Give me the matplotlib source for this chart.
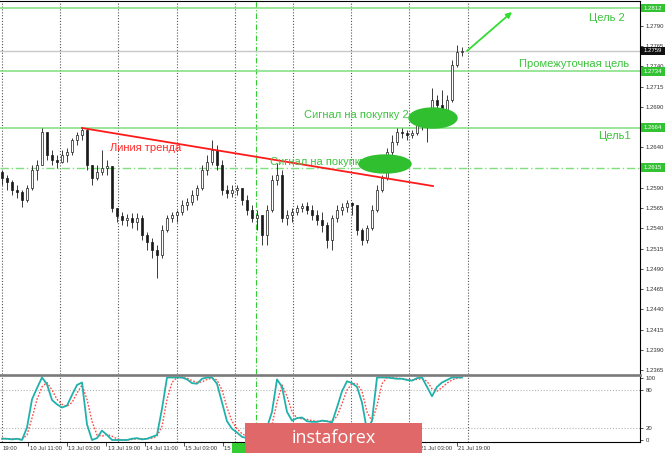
import numpy as np
import matplotlib
matplotlib.use("Agg")
import matplotlib.pyplot as plt
from matplotlib.patches import Rectangle, Ellipse
from matplotlib.lines import Line2D
from matplotlib.transforms import blended_transform_factory

plt.rcParams['font.family'] = ['Liberation Sans', 'DejaVu Sans']

# ---------------- data (GBPUSD, 2-hour aggregated candles) ----------------
opens = [1.26095, 1.26021, 1.25972, 1.25873, 1.25848, 1.25750, 1.25898, 1.26120, 1.26182, 1.26589,
         1.26305, 1.26244, 1.26219, 1.26305, 1.26342, 1.26491, 1.26552, 1.26614, 1.26182, 1.26021,
         1.26095, 1.26145, 1.26169, 1.25651, 1.25552, 1.25503, 1.25527, 1.25478, 1.25527, 1.25317,
         1.25231, 1.25132, 1.25070, 1.25379, 1.25527, 1.25564, 1.25601, 1.25688, 1.25725, 1.25811,
         1.25898, 1.26120, 1.26219, 1.26367, 1.26182, 1.25873, 1.25836, 1.25873, 1.25898, 1.25750,
         1.25626, 1.25527, 1.25564, 1.25317, 1.25626, 1.25997, 1.26058, 1.25527, 1.25564, 1.25601,
         1.25651, 1.25675, 1.25626, 1.25564, 1.25503, 1.25441, 1.25256, 1.25527, 1.25626, 1.25663,
         1.25712, 1.25688, 1.25379, 1.25256, 1.25404, 1.25626, 1.25873, 1.26021, 1.26342, 1.26466,
         1.26589, 1.26577, 1.26552, 1.26577, 1.26713, 1.26676, 1.26799, 1.26985, 1.26923, 1.26861,
         1.26985, 1.27417, 1.27577]
highs = [1.26120, 1.26058, 1.25997, 1.25935, 1.25873, 1.25935, 1.26182, 1.26244, 1.26639, 1.26589,
         1.26367, 1.26305, 1.26367, 1.26392, 1.26515, 1.26589, 1.26651, 1.26639, 1.26182, 1.26182,
         1.26367, 1.26244, 1.26169, 1.25651, 1.25601, 1.25577, 1.25589, 1.25589, 1.25564, 1.25354,
         1.25280, 1.25194, 1.25441, 1.25564, 1.25601, 1.25626, 1.25750, 1.25774, 1.25873, 1.25935,
         1.26182, 1.26305, 1.26491, 1.26429, 1.26244, 1.25935, 1.25935, 1.25935, 1.25898, 1.25811,
         1.25688, 1.25626, 1.25564, 1.25688, 1.26058, 1.26206, 1.26120, 1.25626, 1.25651, 1.25688,
         1.25712, 1.25725, 1.25688, 1.25626, 1.25601, 1.25478, 1.25564, 1.25688, 1.25712, 1.25750,
         1.25725, 1.25688, 1.25404, 1.25441, 1.25688, 1.25935, 1.26058, 1.26392, 1.26552, 1.26639,
         1.26639, 1.26614, 1.26614, 1.26762, 1.26799, 1.26861, 1.27133, 1.27046, 1.27108, 1.27046,
         1.27479, 1.27664, 1.27639]
lows = [1.25935, 1.25873, 1.25811, 1.25774, 1.25663, 1.25725, 1.25873, 1.25997, 1.26182, 1.26244,
        1.26182, 1.26145, 1.26206, 1.26219, 1.26305, 1.26429, 1.26491, 1.26120, 1.25935, 1.25997,
        1.26058, 1.26058, 1.25601, 1.25478, 1.25441, 1.25428, 1.25404, 1.25379, 1.25256, 1.25132,
        1.25033, 1.24786, 1.25033, 1.25354, 1.25478, 1.25478, 1.25564, 1.25626, 1.25688, 1.25750,
        1.25873, 1.26058, 1.26182, 1.26120, 1.25811, 1.25774, 1.25787, 1.25811, 1.25688, 1.25564,
        1.25478, 1.25379, 1.25194, 1.25194, 1.25601, 1.25935, 1.25478, 1.25441, 1.25478, 1.25564,
        1.25601, 1.25577, 1.25503, 1.25441, 1.25354, 1.25157, 1.25132, 1.25478, 1.25564, 1.25601,
        1.25564, 1.25317, 1.25194, 1.25218, 1.25379, 1.25601, 1.25848, 1.25997, 1.26305, 1.26429,
        1.26515, 1.26491, 1.26515, 1.26552, 1.26614, 1.26466, 1.26762, 1.26836, 1.26799, 1.26713,
        1.26960, 1.27392, 1.27528]
closes = [1.26021, 1.25972, 1.25873, 1.25848, 1.25750, 1.25898, 1.26120, 1.26182, 1.26589, 1.26305,
          1.26244, 1.26219, 1.26305, 1.26342, 1.26491, 1.26552, 1.26614, 1.26182, 1.26021, 1.26095,
          1.26145, 1.26169, 1.25651, 1.25552, 1.25503, 1.25527, 1.25478, 1.25527, 1.25317, 1.25231,
          1.25132, 1.25070, 1.25379, 1.25527, 1.25564, 1.25601, 1.25688, 1.25725, 1.25811, 1.25898,
          1.26120, 1.26219, 1.26367, 1.26182, 1.25873, 1.25836, 1.25873, 1.25898, 1.25750, 1.25626,
          1.25527, 1.25564, 1.25317, 1.25626, 1.25997, 1.26058, 1.25527, 1.25564, 1.25601, 1.25651,
          1.25675, 1.25626, 1.25564, 1.25503, 1.25441, 1.25256, 1.25527, 1.25626, 1.25663, 1.25712,
          1.25688, 1.25379, 1.25256, 1.25404, 1.25626, 1.25873, 1.26021, 1.26342, 1.26466, 1.26589,
          1.26577, 1.26552, 1.26577, 1.26713, 1.26676, 1.26799, 1.26985, 1.26923, 1.26861, 1.26985,
          1.27417, 1.27577, 1.27590]

stoch_main = [2, 2, 1, 2, 0, 20, 65, 83, 100, 89,
              64, 57, 52, 55, 72, 88, 92, 25, 0, 3,
              15, 8, 0, 0, 0, 0, 2, 3, 1, 2,
              5, 8, 50, 100, 100, 100, 100, 97, 91, 90,
              98, 100, 100, 90, 60, 30, 18, 12, 5, 3,
              2, 6, 4, 20, 45, 97, 85, 45, 31, 35,
              36, 30, 29, 29, 31, 30, 28, 52, 78, 94,
              91, 85, 60, 15, 31, 100, 100, 100, 99, 98,
              98, 96, 95, 99, 100, 85, 70, 85, 92, 96,
              100, 100, 100]
stoch_signal = [3, 2, 2, 2, 1, 8, 35, 65, 85, 92,
                80, 65, 57, 54, 60, 75, 88, 65, 30, 8,
                6, 9, 6, 2, 0, 0, 1, 2, 2, 2,
                3, 6, 22, 65, 92, 100, 100, 99, 95, 92,
                93, 97, 99, 96, 80, 52, 30, 18, 10, 6,
                3, 4, 5, 10, 25, 60, 88, 70, 45, 35,
                34, 33, 31, 30, 30, 30, 30, 38, 58, 80,
                90, 90, 78, 45, 30, 55, 90, 100, 100, 99,
                98, 97, 96, 97, 98, 94, 82, 78, 84, 91,
                96, 99, 100]

price_ticks = [1.2790, 1.2765, 1.2740, 1.2715, 1.2690, 1.2665, 1.2640, 1.2615, 1.2590,
               1.2565, 1.2540, 1.2515, 1.2490, 1.2465, 1.2440, 1.2415, 1.2390, 1.2365]
stoch_ticks = [0, 20, 80, 100]

level_target2 = 1.2812
level_mid = 1.2734
level_target1 = 1.2664
level_signal1 = 1.2615
last_price = 1.2759

time_labels = ["19:00", "10 Jul 11:00", "13 Jul 03:00", "13 Jul 19:00", "14 Jul 11:00",
               "15 Jul 03:00", "15 Jul 19:00", "16 Jul 11:00", "17 Jul 03:00", "17 Jul 19:00",
               "20 Jul 11:00", "21 Jul 03:00", "21 Jul 19:00"]

trend_x = [16.0, 86.2]
trend_y = [1.26639, 1.25922]

# ---------------- layout ----------------
W, H = 665, 455
fig = plt.figure(figsize=(W / 100, H / 100), dpi=100)
fig.patch.set_facecolor('white')


def rect(x0, y0, x1, y1):
    return [x0 / W, 1 - y1 / H, (x1 - x0) / W, (y1 - y0) / H]


def px2idx(p):
    return (p - 2) / 5.0


ax1 = fig.add_axes(rect(0, 1, 640, 374))
ax2 = fig.add_axes(rect(0, 376, 640, 442), sharex=ax1)

xmin, xmax = px2idx(0), px2idx(640)
ax1.set_xlim(xmin, xmax)
ax1.set_ylim(1.23601, 1.28207)
ax2.set_ylim(-3.2, 102.4)

LINE_G = '#7fdf7f'
TEXT_G = '#3cc43c'
GRID = '#555555'
dotted = (0, (1, 1.6))

# vertical grid (both panels)
grid_x = [px2idx(2 + 58.2 * k) for k in range(9)]
for gx in grid_x:
    ax1.axvline(gx, color=GRID, lw=0.8, ls=dotted, zorder=1)
    ax2.axvline(gx, color=GRID, lw=0.8, ls=dotted, zorder=1)

vline_x = px2idx(256)
ax1.axvline(vline_x, color='#33cc33', lw=0.8, ls=(0, (5, 2, 1, 2)), zorder=1)
ax2.axvline(vline_x, color='#33cc33', lw=0.8, ls=(0, (5, 2, 1, 2)), zorder=1)

# horizontal levels
ax1.axhline(level_target2, color=LINE_G, lw=1.1, zorder=2)
ax1.axhline(last_price, color='#c8c8c8', lw=1.0, zorder=2)
ax1.axhline(level_mid, color=LINE_G, lw=1.1, zorder=2)
ax1.axhline(level_target1, color=LINE_G, lw=1.1, zorder=2)
ax1.axhline(level_signal1, color=LINE_G, lw=1.0, ls=(0, (6, 2, 1, 2)), zorder=2)

# candles
n = len(closes)
x = np.arange(n)
o = np.array(opens)
c = np.array(closes)
ax1.vlines(x, lows, highs, color='#1a1a1a', lw=0.6, zorder=3)
up = c >= o
bb = np.minimum(o, c)
bh = np.maximum(np.abs(c - o), 0.00004)
ax1.bar(x[up], bh[up], bottom=bb[up], width=0.45, color='white', edgecolor='#1a1a1a', lw=0.5, zorder=4)
ax1.bar(x[~up], bh[~up], bottom=bb[~up], width=0.45, color='#1a1a1a', edgecolor='#1a1a1a', lw=0.5, zorder=4)

# trend line and annotations
ax1.plot(trend_x, trend_y, color='#ff1a1a', lw=1.3, zorder=5)
ax1.add_patch(Ellipse((px2idx(385), 1.26194), 10.4, 0.00222, color='#2fbf2f', zorder=7))
ax1.add_patch(Ellipse((px2idx(433), 1.26762), 9.6, 0.00247, color='#2fbf2f', zorder=7))
ax1.annotate('', xy=(px2idx(512), 1.28071), xytext=(px2idx(467), 1.27590),
             arrowprops=dict(arrowstyle='-|>', color='#33dd33', lw=1.3, mutation_scale=8,
                             shrinkA=0, shrinkB=0), zorder=6)

fs = 8.0
ax1.text(px2idx(110), 1.26392, 'Линия тренда', color='#ff2a2a', fontsize=fs, va='center', ha='left', zorder=6)
ax1.text(px2idx(270), 1.26219, 'Сигнал на покупку', color=TEXT_G, fontsize=fs, va='center', ha='left', zorder=6)
ax1.text(px2idx(304), 1.26799, 'Сигнал на покупку 2', color=TEXT_G, fontsize=fs, va='center', ha='left', zorder=6)
ax1.text(px2idx(589), 1.27997, 'Цель 2', color=TEXT_G, fontsize=fs, va='center', ha='left', zorder=6)
ax1.text(px2idx(519), 1.27429, 'Промежуточная цель', color=TEXT_G, fontsize=fs, va='center', ha='left', zorder=6)
ax1.text(px2idx(598), 1.26542, 'Цель1', color=TEXT_G, fontsize=fs, va='center', ha='left', zorder=6)

# stochastic
ax2.axhline(80, color='#b5b5b5', lw=0.8, ls=dotted, zorder=1)
ax2.axhline(20, color='#b5b5b5', lw=0.8, ls=dotted, zorder=1)
ax2.plot(x, stoch_signal, color='#ff4a4a', lw=1.0, ls=(0, (1.2, 1.2)), zorder=3)
ax2.plot(x, stoch_main, color='#20b2aa', lw=1.3, zorder=4)

# axes styling
for ax in (ax1, ax2):
    ax.set_facecolor('white')
    ax.spines['left'].set_visible(False)
    ax.spines['right'].set_color('black')
    ax.spines['right'].set_linewidth(0.8)
    ax.yaxis.tick_right()
ax1.spines['bottom'].set_visible(False)
ax1.spines['top'].set_linewidth(0.8)
ax2.spines['top'].set_visible(False)
ax2.spines['bottom'].set_linewidth(0.8)

boxed = {f'{v:.4f}' for v in (1.2665, 1.2615)}
ax1.set_yticks(price_ticks)
ax1.set_yticklabels(['' if f'{t:.4f}' in boxed else f'{t:.4f}' for t in price_ticks])
ax1.tick_params(axis='y', labelsize=4.3, length=2, width=0.6, pad=2, colors='#333333')
ax1.tick_params(axis='x', bottom=False, labelbottom=False)

ax2.set_yticks(stoch_ticks)
ax2.set_yticklabels([str(t) for t in stoch_ticks])
ax2.tick_params(axis='y', labelsize=4.3, length=2, width=0.6, pad=2, colors='#333333')

label_x = [px2idx(-11 + 39 * k) for k in range(len(time_labels))]
ax2.set_xticks([lx for lx in label_x if xmin <= lx <= xmax])
ax2.tick_params(axis='x', direction='out', length=3, width=0.6, labelbottom=False, colors='#333333')
tb = blended_transform_factory(ax2.transData, ax2.transAxes)
for k, (lx, lab) in enumerate(zip(label_x, time_labels)):
    xpos = px2idx(3) if k == 0 else lx + 0.3
    ax2.text(xpos, -3.5 / 66, lab, transform=tb, fontsize=4.2, color='#333333',
             ha='left', va='top', clip_on=False)

# separator between panels
fig.add_artist(Line2D([0, 640 / W], [1 - 375 / H, 1 - 375 / H], color='#7a7a7a', lw=1.9, zorder=5))

# price label boxes on the right axis
bt = blended_transform_factory(fig.transFigure, ax1.transData)
hh = 0.00055
for lvl, fc, tc in [(level_target2, '#33c233', 'white'), (level_mid, '#33c233', 'white'),
                    (level_target1, '#33c233', 'white'), (level_signal1, '#33c233', 'white'),
                    (last_price, '#111111', 'white')]:
    ax1.add_patch(Rectangle((641 / W, lvl - hh), (W - 641) / W, 2 * hh, transform=bt,
                            facecolor=fc, edgecolor='none', clip_on=False, zorder=10))
    ax1.text(653 / W, lvl, f'{lvl:.4f}', transform=bt, fontsize=4.3, color=tc,
             ha='center', va='center', clip_on=False, zorder=11)

# green date box on the time axis
fig.add_artist(Rectangle((232 / W, 1 - 453 / H), 13 / W, 10 / H, transform=fig.transFigure,
                         facecolor='#33cc33', edgecolor='none', zorder=15))

# watermark
fig.add_artist(Rectangle((245 / W, 1 - 453 / H), (422 - 245) / W, 30 / H, transform=fig.transFigure,
                         facecolor='#e06868', edgecolor='none', zorder=20))
fig.text(334 / W, 1 - 438 / H, 'instaforex', color='white', fontsize=13, ha='center', va='center',
         family=['Open Sans', 'DejaVu Sans'], zorder=21)

fig.savefig('out.png', dpi=100, facecolor='white')
